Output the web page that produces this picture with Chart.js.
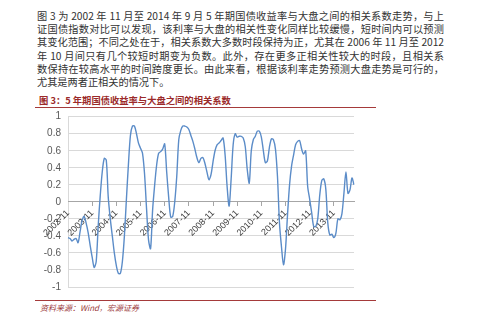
<!DOCTYPE html>
<html>
<head>
<meta charset="utf-8">
<script src="https://cdn.jsdelivr.net/npm/chart.js@4/dist/chart.umd.min.js"></script>
<style>
  html, body { margin: 0; padding: 0; background: #fff; }
  body { width: 500px; height: 321px; position: relative; overflow: hidden; }
  .para { position: absolute; left: 37px; top: 9px; width: 407px; font-family: "Noto Sans CJK SC", serif; font-size: 10.2px; color: #333; }
  .para div { height: 13.2px; line-height: 13.2px; text-align: justify; text-align-last: justify; white-space: nowrap; }
  .para div.last { text-align-last: left; }
  .title { position: absolute; left: 39px; top: 93px; font-family: "Noto Sans CJK SC", sans-serif; font-weight: bold; font-size: 9.3px; color: #9b2a2a; }
  .rule { position: absolute; left: 35px; width: 341px; height: 1px; background: #a53a3a; }
  .src { position: absolute; left: 40px; top: 302px; font-family: "Noto Sans CJK SC", serif; font-style: italic; font-size: 8px; color: #9b3a3a; }
  #wrap { position: absolute; left: 0; top: 100px; width: 380px; height: 200px; }
</style>
</head>
<body>
<div class="para">
  <div>图 3 为 2002 年 11 月至 2014 年 9 月 5 年期国债收益率与大盘之间的相关系数走势，与上</div>
  <div>证国债指数对比可以发现，该利率与大盘的相关性变化同样比较缓慢，短时间内可以预测</div>
  <div>其变化范围；不同之处在于，相关系数大多数时段保持为正，尤其在 2006 年 11 月至 2012</div>
  <div>年 10 月间只有几个较短时期变为负数。此外，存在更多正相关性较大的时段，且相关系</div>
  <div>数保持在较高水平的时间跨度更长。由此来看，根据该利率走势预测大盘走势是可行的，</div>
  <div class="last">尤其是两者正相关的情况下。</div>
</div>
<div class="title">图 3：5 年期国债收益率与大盘之间的相关系数</div>
<div class="rule" style="top:107px"></div>
<div id="wrap"><canvas id="corrChart"></canvas></div>
<div class="rule" style="top:300px"></div>
<div class="src">资料来源：Wind，宏源证券</div>

<script>
// monthly points, 2002-11 .. 2014-09
const startYear = 2002;
const startMonth = 11;
const endYear = 2014;
const endMonth = 9;

// labelled ticks on the x axis
const tickLabels = ['2002-11', '2003-11', '2004-11', '2005-11', '2006-11', '2007-11',
    '2008-11', '2009-11', '2010-11', '2011-11', '2012-11', '2013-11'];

// correlation coefficient
const corrValues = [
    -0.42, -0.43, -0.46, -0.44, -0.43, -0.48, -0.35, -0.22, -0.17, -0.25,
    -0.36, -0.51, -0.65, -0.77, -0.70, -0.28, 0.07, 0.35, 0.51, 0.49,
    0.05, -0.20, -0.40, -0.60, -0.75, -0.84, -0.84, -0.70, -0.40, 0.03,
    0.44, 0.78, 0.89, 0.89, 0.80, 0.69, 0.63, 0.57, 0.33, -0.08,
    -0.45, -0.55, -0.10, 0.19, 0.43, 0.57, 0.59, 0.62, 0.68, 0.35,
    0.05, -0.18, -0.17, 0.00, 0.30, 0.73, 0.84, 0.89, 0.89, 0.88,
    0.85, 0.78, 0.71, 0.62, 0.52, 0.46, 0.51, 0.52, 0.45, 0.35,
    0.26, 0.32, 0.47, 0.60, 0.67, 0.69, 0.72, 0.75, 0.55, 0.18,
    -0.05, 0.27, 0.67, 0.80, 0.76, 0.77, 0.77, 0.75, 0.65, 0.38,
    0.22, 0.60, 0.73, 0.77, 0.83, 0.83, 0.76, 0.60, 0.46, 0.48,
    0.64, 0.74, 0.73, 0.62, 0.30, -0.25, -0.53, -0.74, -0.55, -0.15,
    0.20, 0.42, 0.55, 0.67, 0.71, 0.72, 0.62, 0.56, 0.60, 0.18,
    0.03, -0.13, -0.29, -0.29, -0.20, 0.08, 0.25, 0.27, 0.15, -0.25,
    -0.39, -0.38, -0.42, -0.37, -0.20, -0.21, -0.14, 0.10, 0.35, 0.10,
    0.14, 0.28, 0.20
];

const monthLabels = [];
for (let y = startYear, m = startMonth; y < endYear || (y === endYear && m <= endMonth); ) {
    monthLabels.push(y + '-' + String(m).padStart(2, '0'));
    m++;
    if (m > 12) { m = 1; y++; }
}

const corrChartElem = document.getElementById('corrChart').getContext('2d');

const corrData = {
    labels: monthLabels,
    datasets: [{
        data: corrValues,
        fill: false,
        borderColor: '#5b8cc8',
        borderWidth: 1.4,
        tension: 0.3,
        pointRadius: 0,
    }],
};

const corrConfig = {
    type: 'line',
    data: corrData,
    options: {
        responsive: true,
        maintainAspectRatio: false,
        animation: false,
        layout: {
            padding: { top: 16.7, right: 26, bottom: 8.3, left: 0 },
        },
        scales: {
            y: {
                min: -1,
                max: 1,
                afterFit: (scale) => { scale.width = 68; },
                ticks: {
                    stepSize: 0.2,
                    padding: 7,
                    color: '#595959',
                    font: { family: 'Liberation Sans', size: 10 },
                    callback: (v) => String(parseFloat(v.toFixed(1))),
                },
                grid: { color: '#d9d9d9', drawTicks: false },
                border: { display: true, color: '#d9d9d9' },
            },
            x: {
                position: { y: 0 },
                ticks: {
                    autoSkip: false,
                    minRotation: 45,
                    maxRotation: 45,
                    padding: 2,
                    color: '#404040',
                    font: { family: 'Liberation Sans', size: 9 },
                    callback: (v, i) => (tickLabels.includes(monthLabels[i]) ? monthLabels[i] : ''),
                },
                grid: {
                    drawOnChartArea: false,
                    tickLength: 4,
                    color: (ctx) => (tickLabels.includes(monthLabels[ctx.index]) ? '#a6a6a6' : 'rgba(0,0,0,0)'),
                },
                border: { display: true, color: '#a6a6a6' },
            },
        },
        plugins: {
            legend: { display: false },
            tooltip: { enabled: false },
        },
    },
};

const corrChart = new Chart(corrChartElem, corrConfig);
</script>
</body>
</html>
